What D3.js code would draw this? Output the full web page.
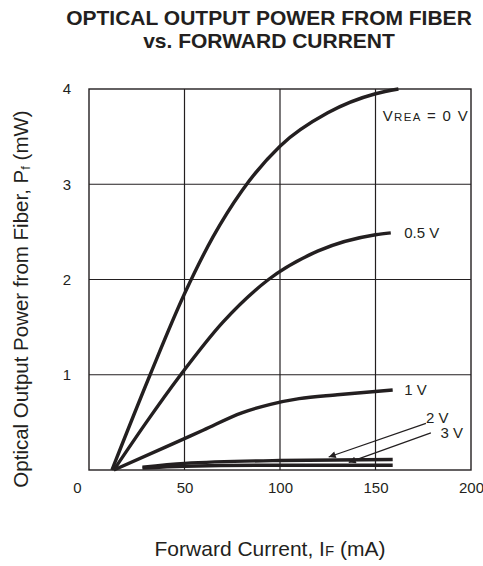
<!DOCTYPE html>
<html>
<head>
<meta charset="utf-8">
<script src="https://cdn.jsdelivr.net/npm/d3@7"></script>
<style>
  body { margin: 0; background: #fff; }
  svg { display: block; font-family: "Liberation Sans", Arial, sans-serif; }
</style>
</head>
<body>
<div id="chart"></div>
<script>
// forward current (mA) vs optical power (mW), one array per reverse voltage
var curve0V  = [[12,0],[32,1.0],[50,1.85],[65,2.45],[80,2.93],[100,3.4],[125,3.75],[150,3.95],[162,4.0]];
var curve05V = [[13,0],[30,0.5],[48,1.0],[70,1.55],[94,2.0],[120,2.3],[150,2.47],[158,2.49]];
var curve1V  = [[13,0],[40,0.24],[60,0.42],[80,0.6],[95,0.69],[110,0.75],[130,0.79],[159,0.84]];
var curve2V  = [[28,0.03],[50,0.07],[100,0.1],[159,0.11]];
var curve3V  = [[28,0.02],[50,0.04],[100,0.05],[159,0.05]];

var xTicks = [0, 50, 100, 150, 200];
var yTicks = [1, 2, 3, 4];

var margin = {top: 89, left: 89},
    width = 382, height = 381;

var svg = d3.select("#chart").append("svg")
    .attr("width", 483)
    .attr("height", 566);

var x = d3.scaleLinear().domain([0, 200]).range([margin.left, margin.left + width]);
var y = d3.scaleLinear().domain([0, 4]).range([margin.top + height, margin.top]);

// title
var title = svg.append("text")
    .attr("text-anchor", "middle")
    .attr("font-weight", "bold")
    .attr("font-size", 21)
    .attr("fill", "#231f20");
title.append("tspan").attr("x", 269).attr("y", 25).text("OPTICAL OUTPUT POWER FROM FIBER");
title.append("tspan").attr("x", 269).attr("y", 48).text("vs. FORWARD CURRENT");

// grid
svg.append("g").selectAll("line")
    .data([50, 100, 150]).enter().append("line")
    .attr("x1", function(d) { return x(d); }).attr("x2", function(d) { return x(d); })
    .attr("y1", y(0)).attr("y2", y(4))
    .attr("stroke", "#231f20").attr("stroke-width", 1.2);
svg.append("g").selectAll("line")
    .data([1, 2, 3]).enter().append("line")
    .attr("y1", function(d) { return y(d); }).attr("y2", function(d) { return y(d); })
    .attr("x1", x(0)).attr("x2", x(200))
    .attr("stroke", "#231f20").attr("stroke-width", 1.2);
svg.append("rect")
    .attr("x", x(0)).attr("y", y(4))
    .attr("width", x(200) - x(0)).attr("height", y(0) - y(4))
    .attr("fill", "none").attr("stroke", "#231f20").attr("stroke-width", 1.4);

// axes, labels only
var xAxis = svg.append("g")
    .attr("transform", "translate(0," + y(0) + ")")
    .call(d3.axisBottom(x).tickValues(xTicks).tickSize(0).tickPadding(10));
var yAxis = svg.append("g")
    .attr("transform", "translate(" + x(0) + ",0)")
    .call(d3.axisLeft(y).tickValues(yTicks).tickFormat(d3.format("d")).tickSize(0).tickPadding(18));
[xAxis, yAxis].forEach(function(a) {
  a.select(".domain").remove();
  a.selectAll("text").attr("font-size", 15).attr("fill", "#231f20")
    .attr("font-family", "Liberation Sans, Arial, sans-serif");
});
xAxis.selectAll(".tick text").attr("dy", "0.85em");
xAxis.selectAll(".tick").filter(function(d) { return d === 0; })
    .select("text").attr("dx", -12);

// axis titles
var xt = svg.append("text")
    .attr("x", 270).attr("y", 556)
    .attr("text-anchor", "middle").attr("font-size", 21).attr("fill", "#231f20");
xt.append("tspan").text("Forward Current, I");
xt.append("tspan").attr("font-size", 15).text("F");
xt.append("tspan").text(" (mA)");

var yt = svg.append("text")
    .attr("transform", "translate(28,299) rotate(-90)")
    .attr("text-anchor", "middle").attr("font-size", 20.5).attr("fill", "#231f20");
yt.append("tspan").text("Optical Output Power from Fiber, P");
yt.append("tspan").attr("font-size", 13).attr("dy", 2).text("f");
yt.append("tspan").attr("dy", -2).text(" (mW)");

// curves
var line = d3.line()
    .x(function(d) { return x(d[0]); })
    .y(function(d) { return y(d[1]); })
    .curve(d3.curveMonotoneX);

[curve0V, curve05V, curve1V, curve2V, curve3V].forEach(function(c) {
  svg.append("path")
    .attr("d", line(c))
    .attr("fill", "none")
    .attr("stroke", "#231f20")
    .attr("stroke-width", 3.4);
});

// labels
var lab = svg.append("text")
    .attr("x", x(153.8)).attr("y", y(3.667))
    .attr("font-size", 15).attr("letter-spacing", 1.3).attr("fill", "#231f20");
lab.append("tspan").text("V");
lab.append("tspan").attr("font-size", 11.5).text("REA");
lab.append("tspan").text(" = 0 V");

svg.append("text").attr("x", x(165)).attr("y", y(2.49)).attr("dy", "0.35em")
    .attr("font-size", 15).attr("fill", "#231f20").text("0.5 V");
svg.append("text").attr("x", x(165)).attr("y", y(0.84)).attr("dy", "0.35em")
    .attr("font-size", 15).attr("fill", "#231f20").text("1 V");
svg.append("text").attr("x", x(176.5)).attr("y", y(0.55)).attr("dy", "0.35em")
    .attr("font-size", 15).attr("fill", "#231f20").text("2 V");
svg.append("text").attr("x", x(184)).attr("y", y(0.39)).attr("dy", "0.35em")
    .attr("font-size", 15).attr("fill", "#231f20").text("3 V");

// leader arrows for 2 V and 3 V
svg.append("defs").append("marker")
    .attr("id", "arr")
    .attr("viewBox", "0 0 10 10")
    .attr("refX", 10).attr("refY", 5)
    .attr("markerWidth", 12).attr("markerHeight", 7)
    .attr("markerUnits", "userSpaceOnUse")
    .attr("orient", "auto")
  .append("path").attr("d", "M0,0L10,5L0,10z").attr("fill", "#231f20");

svg.append("line")
    .attr("x1", x(176.4)).attr("y1", y(0.49))
    .attr("x2", x(125.5)).attr("y2", y(0.136))
    .attr("stroke", "#231f20").attr("stroke-width", 1.2)
    .attr("marker-end", "url(#arr)");
svg.append("line")
    .attr("x1", x(179)).attr("y1", y(0.39))
    .attr("x2", x(136)).attr("y2", y(0.08))
    .attr("stroke", "#231f20").attr("stroke-width", 1.2)
    .attr("marker-end", "url(#arr)");
</script>
</body>
</html>
